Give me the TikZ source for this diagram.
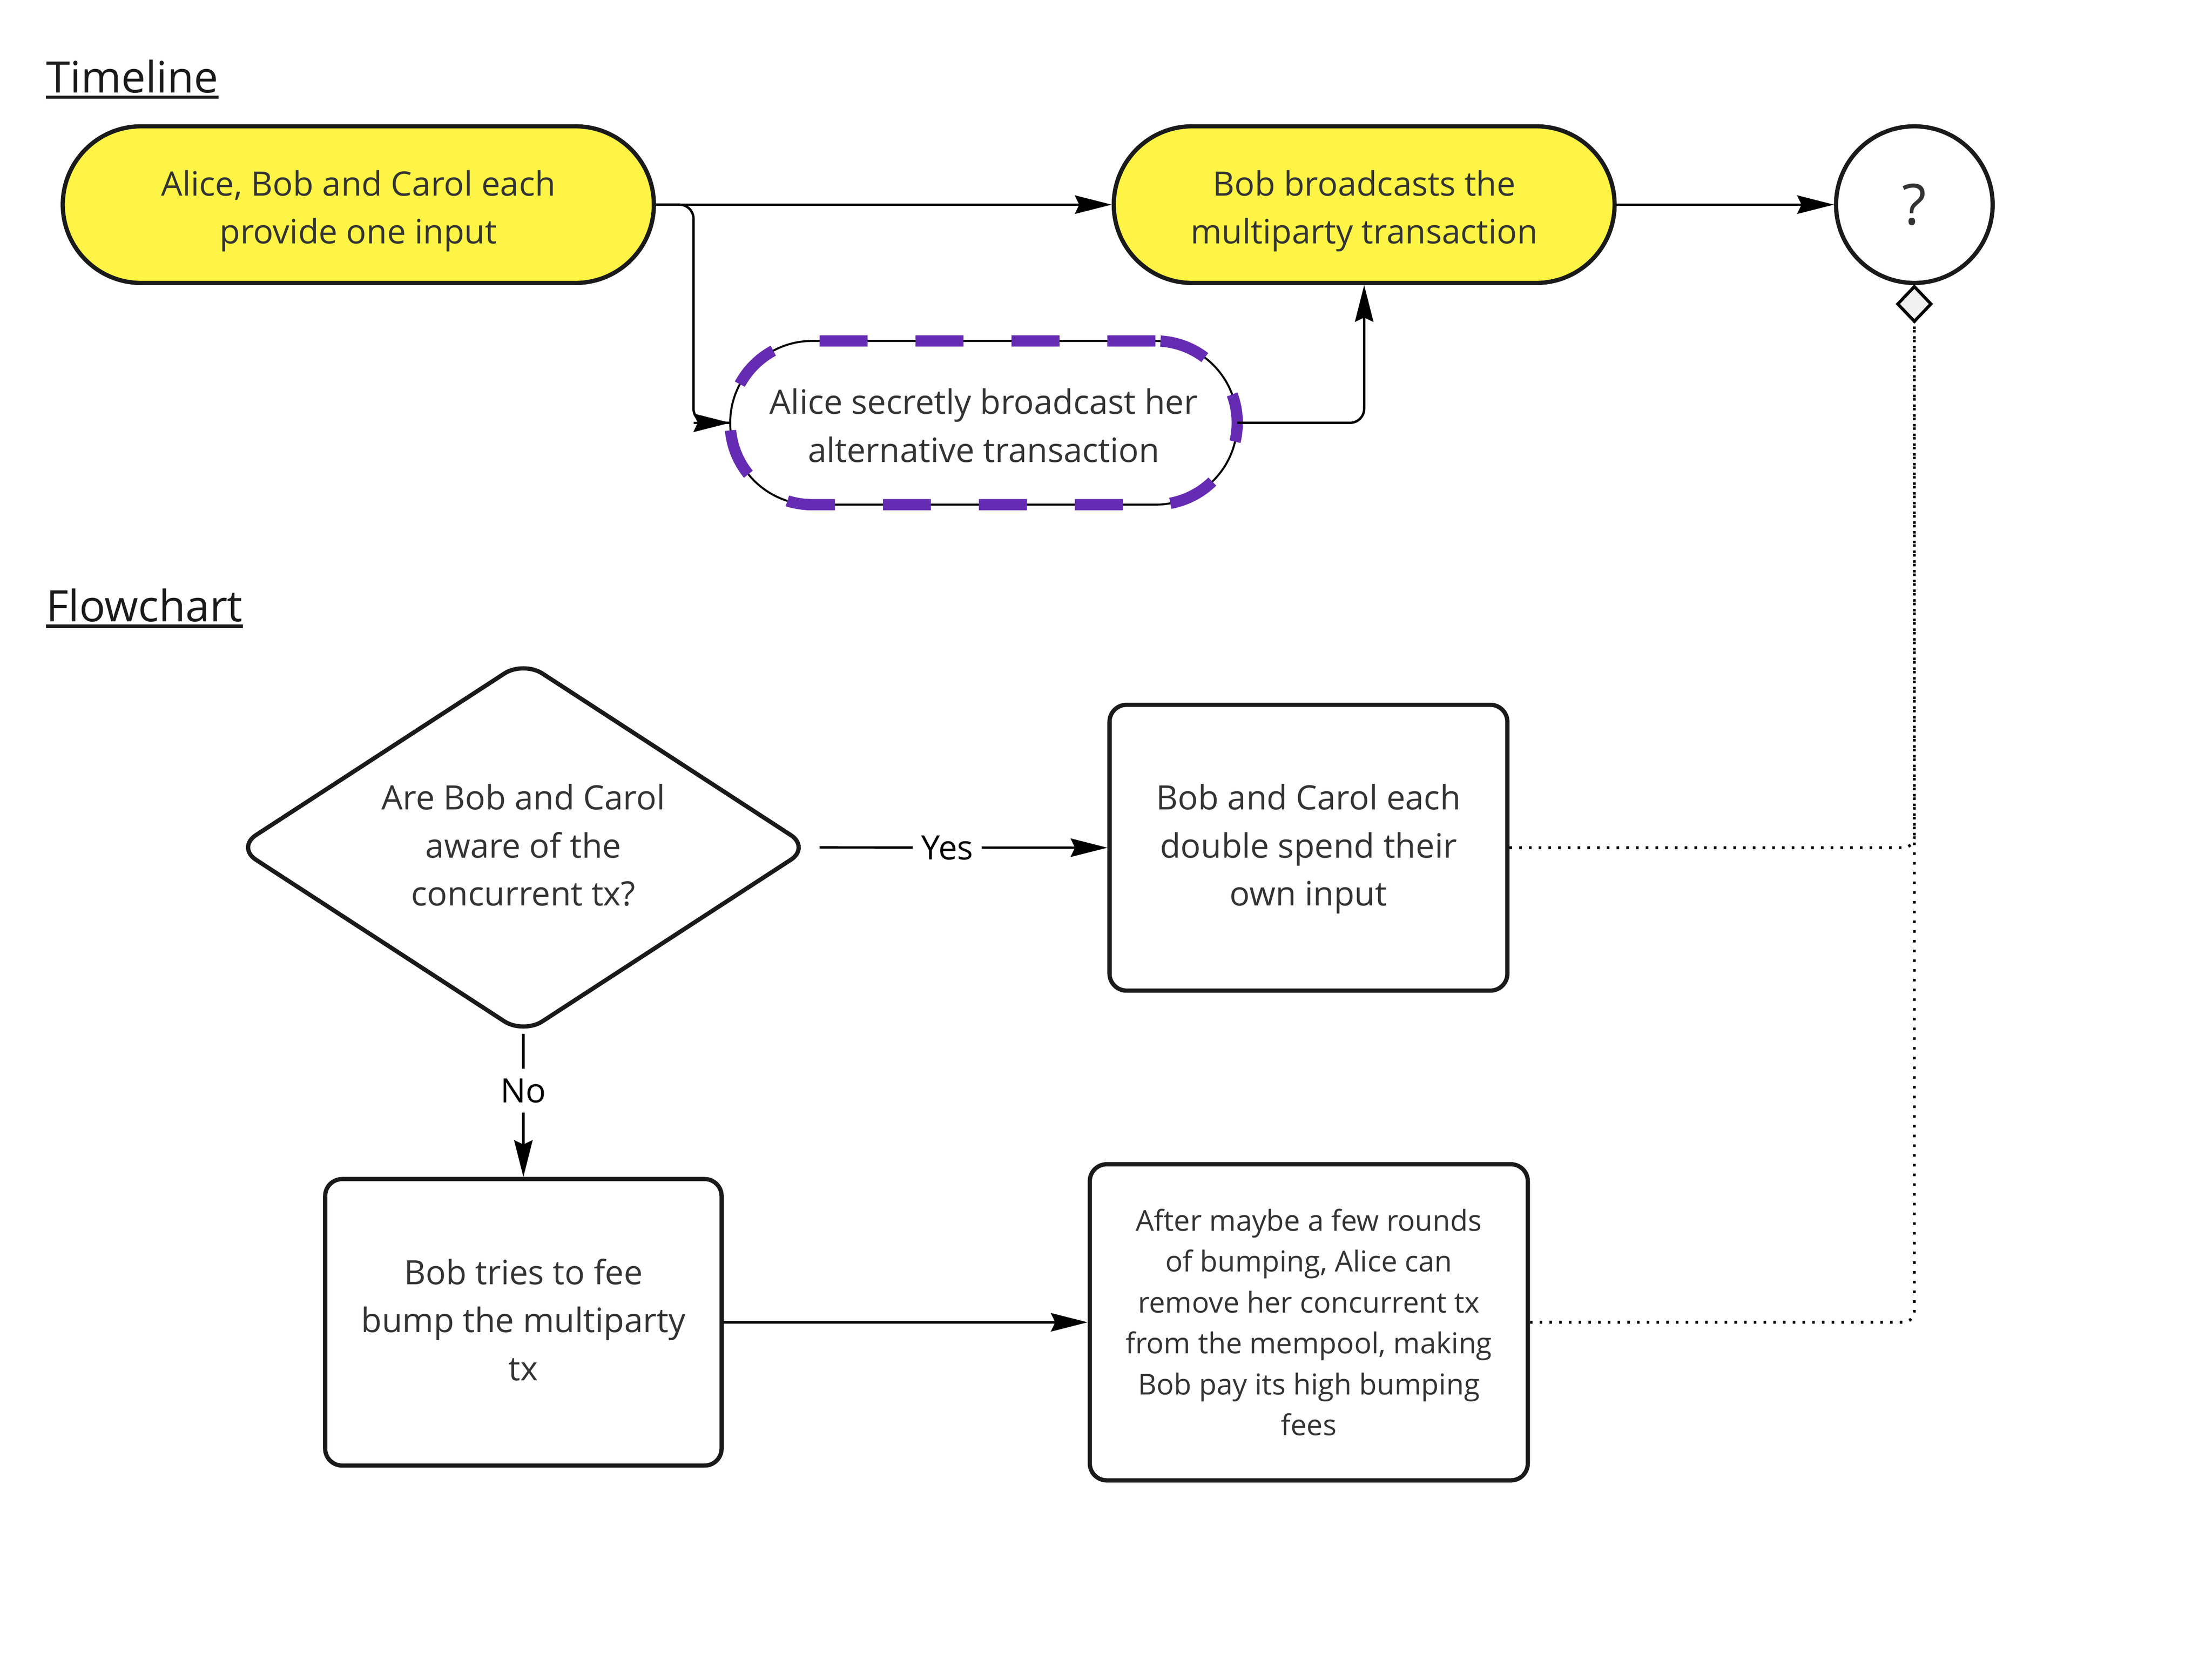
\documentclass[tikz,border=0pt]{standalone}
\usepackage{fontspec}
\setmainfont{Open Sans}
\usetikzlibrary{shapes.geometric,arrows.meta}
\definecolor{yfill}{HTML}{FEF445}
\definecolor{purp}{HTML}{652CB3}
\definecolor{linec}{HTML}{1A1A1A}
\definecolor{txtc}{HTML}{333333}
\definecolor{dgray}{HTML}{F0F0F0}
\newcommand{\tallstrut}[1]{\rule{0pt}{#1}}
\newcommand{\deepstrut}[1]{\rule[-#1]{0pt}{#1}}
\begin{document}
\begin{tikzpicture}[x=1pt,y=-1pt,
  main/.style={font=\fontsize{23.8}{34}\selectfont, text=txtc, align=center},
  yel/.style={main, draw=linec, line width=3pt, fill=yfill, inner sep=0pt},
  box/.style={main, draw=linec, line width=3pt, fill=white, rounded corners=12pt, inner sep=0pt},
  arr/.style={draw=black, line width=1.7pt, -{Stealth[length=26pt,width=13pt,inset=3pt]}},
  ln/.style={draw=black, line width=1.7pt},
  dotl/.style={draw=black, line width=2pt, dash pattern=on 1.8pt off 5.1pt},
  purpdash/.style={purp, line width=8pt, dash pattern=on 34pt off 34pt},
  lbl/.style={font=\fontsize{23.8}{34}\selectfont, text=black, fill=white, inner xsep=6pt, inner ysep=7pt, text height=17pt, text depth=0pt},
  ttl/.style={font=\fontsize{30.7}{36}\selectfont, text=linec, inner sep=0pt, anchor=base west}
]
\useasboundingbox (0,0) rectangle (1568,1176);
\fill[white] (0,0) rectangle (1568,1176);

% titles
\node[ttl] (tl) at (32.5,65.6) {Timeline};
\draw[linec, line width=2.3pt] ([yshift=-3.2pt]tl.base west) -- ([yshift=-3.2pt]tl.base east);
\node[ttl] (fl) at (32.5,440.5) {Flowchart};
\draw[linec, line width=2.3pt] ([yshift=-3.2pt]fl.base west) -- ([yshift=-3.2pt]fl.base east);

% timeline nodes
\node[yel, minimum width=419pt, minimum height=111pt, rounded corners=55.5pt] (n1) at (254,145) {\tallstrut{27pt}Alice, Bob and Carol each\\provide one input};
\node[yel, minimum width=355pt, minimum height=111pt, rounded corners=55.5pt] (n2) at (967,145) {\tallstrut{27pt}Bob broadcasts the\\multiparty transaction};
\node[draw=linec, line width=3pt, circle, fill=white, minimum size=111pt, inner sep=0pt, font=\fontsize{40}{48}\selectfont, text=txtc] (q) at (1357,145) {?};
\node[main, draw=black, line width=1.4pt, fill=white, minimum width=359.4pt, minimum height=116pt, rounded corners=58pt, inner sep=0pt, outer sep=0pt] (dn) at (697.3,299.6) {\tallstrut{22pt}Alice secretly broadcast her\\alternative transaction};
% purple dashed outline of the concurrent-transaction node
\draw[purpdash, dash phase=39.5pt] (dn.west) arc[start angle=180,end angle=90,radius=58pt] -- ([xshift=-58pt]dn.north east);
\draw[purpdash, dash pattern=on 34pt off 33pt, dash phase=63.4pt] ([xshift=-58pt]dn.north east) arc[start angle=90,end angle=-90,radius=58pt];
\draw[purpdash, dash phase=62.6pt] (dn.west) arc[start angle=180,end angle=270,radius=58pt] -- ([xshift=-58pt]dn.south east);
\node[diamond, draw=black, line width=2.2pt, fill=dgray, minimum width=23.5pt, minimum height=24.6pt, inner sep=0pt, outer sep=0pt] (sd) at (1357,215.4) {};

% flowchart nodes
\node[diamond, draw=linec, line width=3pt, fill=white, minimum width=406pt, minimum height=264pt, inner sep=0pt, outer sep=0pt, rounded corners=16pt] (d) at (371,600.5) {};
\node[main] (dt) at (371,599) {Are Bob and Carol\\aware of the\\concurrent tx?};
\node[box, minimum width=282pt, minimum height=202.5pt] (bc) at (927.5,600.7) {\tallstrut{20pt}Bob and Carol each\\double spend their\\own input};
\node[box, minimum width=281pt, minimum height=203pt] (bt) at (371,937) {Bob tries to fee\\bump the multiparty\\tx\deepstrut{4pt}};
\node[box, minimum width=310.5pt, minimum height=224pt, font=\fontsize{20.4}{29}\selectfont] (af) at (927.75,937) {After maybe a few rounds\\of bumping, Alice can\\remove her concurrent tx\\from the mempool, making\\Bob pay its high bumping\\fees};

% connectors
\draw[arr] (n1.east) -- (n2.west);
\draw[arr] (n2.east) -- (q.west);
\coordinate (b1) at (491.6,145);
\coordinate (b2) at (491.6,299.6);
\draw[ln, rounded corners=10pt] (n1.east) -- (b1) -- (b2) -- (dn.west);
\draw[arr] (b2) -- (dn.west);
\draw[arr, rounded corners=10pt] (dn.east) -| (n2.south);
\draw[arr, shorten <=7pt] (d.east) -- node[lbl,pos=0.462] (ly) {Yes} (bc.west);
\draw[arr] (d.south) -- node[lbl,pos=0.397] (lno) {No} (bt.north);
\draw[arr] (bt.east) -- (af.west);
\draw[dotl, rounded corners=8pt] (bc.east) -| (sd.south);
\draw[dotl, rounded corners=8pt] (af.east) -| (sd.south);
\end{tikzpicture}
\end{document}
